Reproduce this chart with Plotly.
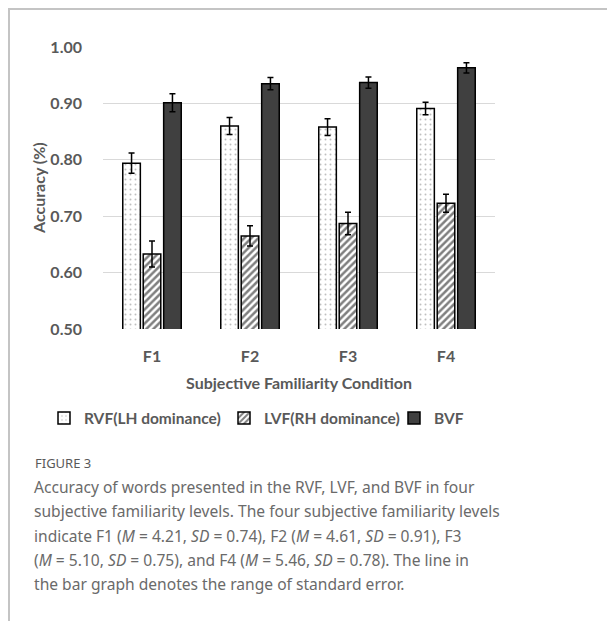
import plotly.graph_objects as go

categories = ["F1", "F2", "F3", "F4"]
series_names = ["RVF(LH dominance)", "LVF(RH dominance)", "BVF"]
rvf = [0.794, 0.860, 0.858, 0.891]
rvf_se = [0.018, 0.015, 0.015, 0.011]
lvf = [0.633, 0.665, 0.687, 0.723]
lvf_se = [0.023, 0.018, 0.020, 0.016]
bvf = [0.901, 0.935, 0.937, 0.963]
bvf_se = [0.016, 0.011, 0.010, 0.009]
y_ticks = [0.5, 0.6, 0.7, 0.8, 0.9, 1.0]

OFF = 8  # page body margin
W, H = 615 - OFF, 621 - OFF
# plot area in page pixels
PL, PR, PT, PB = 103, 495, 47, 328.7
L, R, T, B = PL - OFF, PR - OFF, PT - OFF, PB - OFF

def px(x):
    return (x - OFF - L) / (R - L)

def py(y):
    return (B - (y - OFF)) / (B - T)

gray = "#595959"
ff = "Lato"
bold = dict(family=ff, color=gray, weight="bold")

fig = go.Figure()
err = dict(type="data", color="black", thickness=1.5, width=3)
fig.add_trace(go.Bar(
    name=series_names[0], x=categories, y=rvf, legend="legend",
    error_y=dict(array=rvf_se, **err),
    marker=dict(color="white", line=dict(color="black", width=1.5),
                pattern=dict(shape=".", fgcolor="#808080", bgcolor="white", size=5, solidity=0.12)),
))
fig.add_trace(go.Bar(
    name=series_names[1], x=categories, y=lvf, legend="legend2",
    error_y=dict(array=lvf_se, **err),
    marker=dict(color="white", line=dict(color="black", width=1.5),
                pattern=dict(shape="/", fgcolor="black", bgcolor="white", size=5, solidity=0.5)),
))
fig.add_trace(go.Bar(
    name=series_names[2], x=categories, y=bvf, legend="legend3",
    error_y=dict(array=bvf_se, **err),
    marker=dict(color="#404040", line=dict(color="black", width=1.5)),
))

leg_common = dict(orientation="h", yanchor="middle", xanchor="left",
                  font=dict(size=15.5, **bold), itemwidth=30, bgcolor="rgba(0,0,0,0)")
fig.update_layout(
    width=W, height=H,
    margin=dict(l=L, r=W - R, t=T, b=H - B, pad=0),
    paper_bgcolor="white", plot_bgcolor="white",
    barmode="group", bargap=0.374, bargroupgap=0.14,
    showlegend=True,
    legend=dict(x=px(44), y=py(418), **leg_common),
    legend2=dict(x=px(224), y=py(418), **leg_common),
    legend3=dict(x=px(394), y=py(418), **leg_common),
    font=dict(family=ff, color=gray),
)
fig.update_yaxes(
    range=[0.5, 1.0], tickvals=y_ticks, tickformat=".2f",
    showgrid=True, gridcolor="#d9d9d9", gridwidth=1, zeroline=False,
    showline=False, ticks="", ticklabelstandoff=20,
    tickfont=dict(size=16, **bold),
)
fig.update_xaxes(
    showline=False, ticks="", showgrid=False, ticklabelstandoff=16,
    tickfont=dict(size=16, **bold),
    title=dict(text="Subjective Familiarity Condition", font=dict(size=16, **bold), standoff=13),
)

# y-axis title
fig.add_annotation(text="Accuracy (%)", xref="paper", yref="paper", x=px(38), y=0.5,
                   textangle=-90, xanchor="center", yanchor="middle", showarrow=False,
                   font=dict(size=16, **bold))

# card border (top and left)
fig.add_shape(type="line", xref="paper", yref="paper", x0=px(8), x1=px(640), y0=py(8), y1=py(8),
              line=dict(color="#c4c4c4", width=4))
fig.add_shape(type="line", xref="paper", yref="paper", x0=px(8), x1=px(8), y0=py(8), y1=py(640),
              line=dict(color="#c4c4c4", width=4))

cap_font = "Noto Sans"
fig.add_annotation(text="FIGURE 3", xref="paper", yref="paper", x=px(33), y=py(463),
                   xanchor="left", yanchor="middle", showarrow=False,
                   font=dict(family=cap_font, size=13, color=gray))
lines = [
    "Accuracy of words presented in the RVF, LVF, and BVF in four",
    "subjective familiarity levels. The four subjective familiarity levels",
    "indicate F1 (<i>M</i> = 4.21, <i>SD</i> = 0.74), F2 (<i>M</i> = 4.61, <i>SD</i> = 0.91), F3",
    "(<i>M</i> = 5.10, <i>SD</i> = 0.75), and F4 (<i>M</i> = 5.46, <i>SD</i> = 0.78). The line in",
    "the bar graph denotes the range of standard error.",
]
for i, t in enumerate(lines):
    fig.add_annotation(text=t, xref="paper", yref="paper", x=px(32), y=py(487 + 24 * i),
                       xanchor="left", yanchor="middle", showarrow=False,
                       font=dict(family=cap_font, size=15.6, color="#6a6a6a"))

fig.write_html("out.html")
